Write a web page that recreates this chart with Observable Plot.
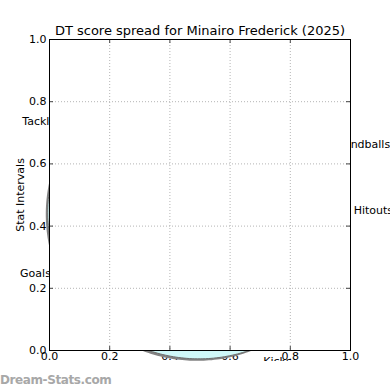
<!DOCTYPE html>
<html>
<head>
<meta charset="utf-8">
<script src="https://cdn.jsdelivr.net/npm/d3@7"></script>
<script src="https://cdn.jsdelivr.net/npm/@observablehq/plot@0.6"></script>
<style>
  html, body { margin: 0; padding: 0; background: white; }
  #wrap { position: relative; width: 390px; height: 390px; overflow: hidden; }
  #wm { position: absolute; left: 0; top: 373px; font: 12px "DejaVu Sans", sans-serif; color: #a8a8a8; font-weight: bold; letter-spacing: -0.4px; line-height: 14px; white-space: nowrap; }
</style>
</head>
<body>
<div id="wrap"><div id="chart"></div><div id="wm">Dream-Stats.com</div></div>
<script>
// ---- data ----
const titleText = "DT score spread for Minairo Frederick (2025)";
const yLabel = "Stat Intervals";
const xTicks = [0, 0.2, 0.4, 0.6, 0.8, 1.0];
const yTicks = [0, 0.2, 0.4, 0.6, 0.8, 1.0];
const statNames = ["Hitouts", "Handballs", "Tackles", "Goals", "Kicks"];
const statAngles = [-2, 20, 152, 203, 297];        // degrees, counter-clockwise from east
const statValues = [0.90, 0.95, 0.94, 0.985, 1.0]; // fraction of outer radius

// ---- layout ----
const W = 390, H = 361, ML = 49, MR = 40, MT = 39, MB = 11;
const innerW = W - ML - MR, innerH = H - MT - MB;
const polarCenterPx = [197, 204];   // polar axes centre in pixels
const polarRadiusPx = 155;          // outer radius in pixels
const labelRadiusPx = 176;
const cx = (polarCenterPx[0] - ML) / innerW;
const cy = (MT + innerH - polarCenterPx[1]) / innerH;
const toXY = (deg, rPx) => ({
  x: cx + rPx * Math.cos(deg * Math.PI / 180) / innerW,
  y: cy + rPx * Math.sin(deg * Math.PI / 180) / innerH
});

// polar outline: segments rendered as polar arcs/spirals between vertices
const verts = statAngles.map((a, i) => ({a, v: statValues[i]}));
const outline = [];
for (let i = 0; i < verts.length; i++) {
  const p = verts[i], q = verts[(i + 1) % verts.length];
  let a1 = q.a; if (a1 <= p.a) a1 += 360;
  const steps = Math.max(2, Math.ceil(a1 - p.a));
  for (let s = 0; s < steps; s++) {
    const t = s / steps;
    outline.push(toXY(p.a + (a1 - p.a) * t, polarRadiusPx * (p.v + (q.v - p.v) * t)));
  }
}
outline.push(outline[0]);
const labels = statNames.map((n, i) => ({name: n, ...toXY(statAngles[i], labelRadiusPx)}));

const chart = Plot.plot({
  width: W, height: H,
  marginLeft: ML, marginRight: MR, marginTop: MT, marginBottom: MB,
  style: {fontFamily: "DejaVu Sans", fontSize: "11px", background: "white", overflow: "hidden"},
  x: {domain: [0, 1]},
  y: {domain: [0, 1]},
  marks: [
    Plot.axisY(yTicks, {tickSize: 0, tickPadding: 3, tickFormat: d => d.toFixed(1), fontSize: 11, fill: "black", label: null}),
    Plot.axisX(xTicks, {tickSize: 0, tickPadding: 2, tickFormat: d => d.toFixed(1), fontSize: 11, fill: "black", label: null}),
    Plot.line(outline, {x: "x", y: "y", fill: "#828282", stroke: "none", dx: -2, dy: 2, curve: "linear"}),
    Plot.line(outline, {x: "x", y: "y", fill: "#cff8f8", stroke: "#6e6e6e", strokeWidth: 1, curve: "linear"}),
    Plot.text(labels, {x: "x", y: "y", text: "name", fontSize: 11, fill: "black"}),
    Plot.frame({fill: "white", stroke: null}),
    Plot.gridX(xTicks.slice(1, -1), {stroke: "#b4b4b4", strokeOpacity: 1, strokeDasharray: "1,2"}),
    Plot.gridY(yTicks.slice(1, -1), {stroke: "#b4b4b4", strokeOpacity: 1, strokeDasharray: "1,2"}),
    Plot.ruleX(xTicks, {stroke: "#444", insetTop: innerH - 4}),
    Plot.ruleX(xTicks, {stroke: "#444", insetBottom: innerH - 4}),
    Plot.ruleY(yTicks, {stroke: "#444", insetRight: innerW - 4}),
    Plot.ruleY(yTicks, {stroke: "#444", insetLeft: innerW - 4}),
    Plot.frame({stroke: "black", strokeWidth: 1}),
    Plot.text([titleText], {frameAnchor: "top", lineAnchor: "middle", dy: -9, fontSize: 13, fill: "black"}),
    Plot.text([yLabel], {frameAnchor: "left", textAnchor: "middle", lineAnchor: "middle", dx: -29, rotate: -90, fontSize: 11, fill: "black"})
  ]
});
document.getElementById("chart").appendChild(chart);
</script>
</body>
</html>
